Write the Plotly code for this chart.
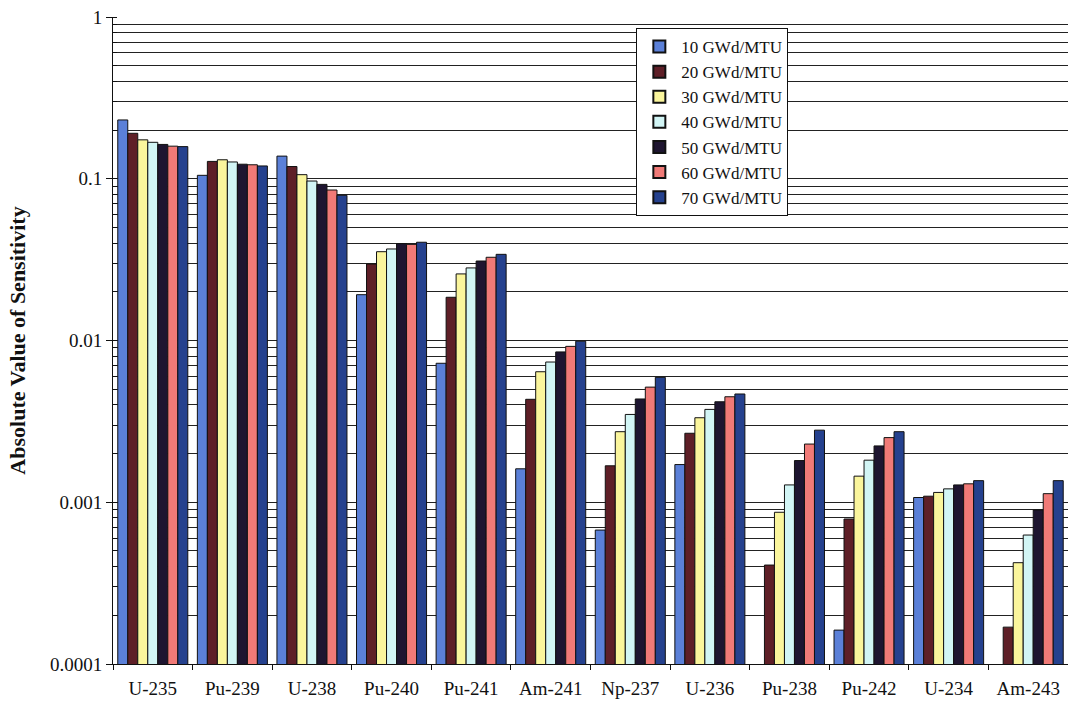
import plotly.graph_objects as go

isotopes = ["U-235", "Pu-239", "U-238", "Pu-240", "Pu-241", "Am-241",
            "Np-237", "U-236", "Pu-238", "Pu-242", "U-234", "Am-243"]

burnup_labels = ["10 GWd/MTU", "20 GWd/MTU", "30 GWd/MTU", "40 GWd/MTU",
                 "50 GWd/MTU", "60 GWd/MTU", "70 GWd/MTU"]

s10 = [0.231, 0.105, 0.138, 0.0192, 0.00723, 0.00161, 0.000673, 0.00171, None, 0.000162, 0.00107, None]
s20 = [0.191, 0.128, 0.119, 0.0297, 0.0185, 0.00433, 0.00168, 0.00267, 0.000409, 0.000788, 0.00109, 0.000169]
s30 = [0.174, 0.131, 0.106, 0.0354, 0.0258, 0.00641, 0.00273, 0.00333, 0.000867, 0.00145, 0.00115, 0.000423]
s40 = [0.168, 0.127, 0.0968, 0.0368, 0.0281, 0.00736, 0.00349, 0.00375, 0.00128, 0.00182, 0.00121, 0.000627]
s50 = [0.163, 0.123, 0.0923, 0.0397, 0.0310, 0.0085, 0.00435, 0.00418, 0.00181, 0.00223, 0.00128, 0.000895]
s60 = [0.159, 0.122, 0.0852, 0.0393, 0.0327, 0.0092, 0.00515, 0.00449, 0.00229, 0.00251, 0.00130, 0.00113]
s70 = [0.158, 0.120, 0.079, 0.0405, 0.0341, 0.0099, 0.00592, 0.00467, 0.00279, 0.00273, 0.00136, 0.00136]

series = [s10, s20, s30, s40, s50, s60, s70]
colors = ["#5B80D8", "#5E1F27", "#FAF59C", "#D2F5F5", "#1E1530", "#F07A77", "#25418E"]

y_tickvals = [0.0001, 0.001, 0.01, 0.1, 1]
y_ticktext = ["0.0001", "0.001", "0.01", "0.1", "1"]

serif = "Liberation Serif"

fig = go.Figure()
for name, vals, col in zip(burnup_labels, series, colors):
    fig.add_trace(go.Bar(
        x=isotopes, y=vals, name=name,
        marker=dict(color=col, line=dict(color="#111111", width=1)),
    ))

fig.update_layout(
    width=1068, height=706,
    margin=dict(l=113, r=0, t=17, b=42),
    paper_bgcolor="white", plot_bgcolor="white",
    barmode="group", bargap=0.12, bargroupgap=0.0,
    font=dict(family=serif, size=18, color="#111111"),
    legend=dict(
        x=0.548, y=0.983, xanchor="left", yanchor="top",
        bgcolor="white", bordercolor="#111111", borderwidth=1,
        font=dict(family=serif, size=17, color="#111111"),
        itemsizing="constant", tracegroupgap=0, itemwidth=34,
    ),
    showlegend=True,
)

fig.update_xaxes(
    showline=True, linecolor="#111111", linewidth=1,
    ticks="outside", ticklen=5, tickcolor="#111111", tickson="boundaries",
    tickfont=dict(family=serif, size=19, color="#111111"),
    ticklabelstandoff=7,
    showgrid=False,
)

fig.update_yaxes(
    type="log", range=[-4, 0],
    tickvals=y_tickvals, ticktext=y_ticktext,
    showline=True, linecolor="#111111", linewidth=1,
    ticks="outside", ticklen=6, tickcolor="#111111",
    tickfont=dict(family=serif, size=19, color="#111111"),
    showgrid=True, gridcolor="#222222", gridwidth=1,
    minor=dict(showgrid=True, gridcolor="#222222", gridwidth=1, dtick="D1",
               ticks="inside", ticklen=4, tickcolor="#111111"),
    zeroline=False,
    title=dict(text="<b>Absolute Value of Sensitivity</b>",
               font=dict(family=serif, size=22, color="#111111"),
               standoff=18),
)

fig.write_html("out.html", config={"displayModeBar": False},
               post_script="document.body.style.margin='0';")
